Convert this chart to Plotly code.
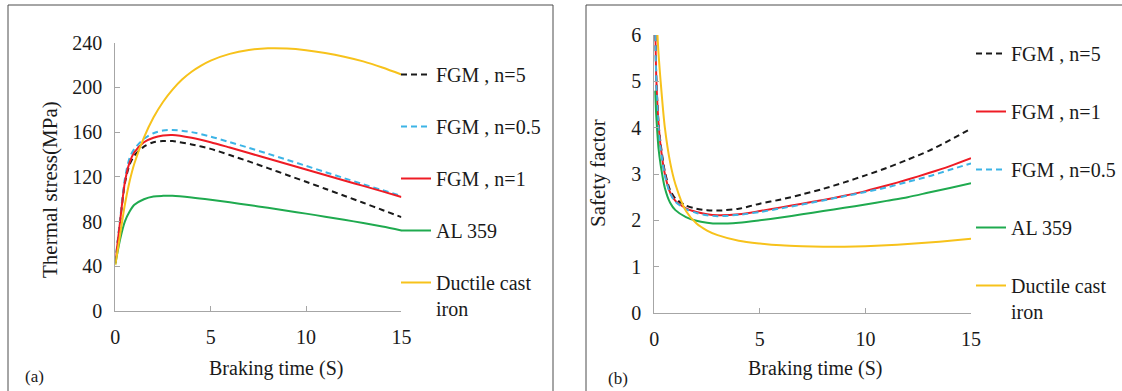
import plotly.graph_objects as go

W, H = 1122, 391
FONT = "Liberation Serif"
TXT = "#1a1a1a"
AX = "#a6a6a6"

# ---------------- (a) Thermal stress ----------------
t_a = [0, 0.25, 0.5, 0.75, 1, 1.5, 2, 2.5, 3, 4, 5, 6, 7, 8, 9, 10, 11, 12, 13, 14, 15]
stress_fgm5 = [43, 80, 114, 131, 139, 147, 151, 152, 152, 149, 145, 139.5, 133.8, 127.8, 121.7, 115.6, 109.4, 103.1, 96.8, 90.4, 84]
stress_fgm05 = [43, 82, 118, 137, 145, 154, 159, 161.5, 162, 160, 156, 151, 146, 140.7, 135.3, 129.8, 124.3, 118.8, 113.4, 108.1, 103]
stress_fgm1 = [43, 80, 115, 133, 142, 151, 155, 157, 157.5, 155, 151, 146.2, 141.3, 136.4, 131.5, 126.6, 121.7, 116.8, 111.9, 107, 102]
stress_al359 = [42, 64, 80, 89, 95, 100, 102.5, 103, 103, 101.5, 99.5, 97.2, 94.8, 92.3, 89.7, 87.1, 84.4, 81.6, 78.7, 75.5, 72]
t_a_dci = [0, 0.25, 0.5, 0.75, 1, 1.5, 2, 2.5, 3, 3.5, 4, 4.5, 5, 6, 7, 8, 9, 10, 11, 12, 13, 14, 15]
stress_dci = [41, 68, 95, 116, 132, 155, 173, 187, 198, 207, 214, 219.5, 224, 230, 233.5, 235, 234.8, 233.3, 230.8, 227.5, 223.3, 217.8, 211.5]

# ---------------- (b) Safety factor ----------------
t_b = [0.05, 0.1, 0.2, 0.3, 0.5, 0.75, 1, 1.5, 2, 2.5, 3, 4, 5, 6, 7, 8, 9, 10, 11, 12, 13, 14, 15]
sf_fgm5 = [6, 5.0, 4.1, 3.65, 3.05, 2.65, 2.47, 2.32, 2.25, 2.22, 2.21, 2.25, 2.36, 2.45, 2.56, 2.68, 2.82, 2.97, 3.13, 3.31, 3.5, 3.73, 3.98]
sf_fgm1 = [6, 5.0, 4.1, 3.6, 3.0, 2.6, 2.42, 2.26, 2.18, 2.13, 2.11, 2.13, 2.2, 2.28, 2.36, 2.44, 2.53, 2.63, 2.75, 2.88, 3.02, 3.17, 3.34]
sf_fgm05 = [6, 4.9, 4.0, 3.55, 2.97, 2.58, 2.4, 2.24, 2.16, 2.11, 2.09, 2.12, 2.18, 2.26, 2.34, 2.43, 2.52, 2.61, 2.71, 2.83, 2.95, 3.09, 3.23]
t_b_al = [0.03, 0.1, 0.2, 0.3, 0.5, 0.75, 1, 1.5, 2, 2.5, 3, 4, 5, 6, 7, 8, 9, 10, 11, 12, 13, 14, 15]
sf_al359 = [4.8, 4.2, 3.55, 3.2, 2.7, 2.38, 2.22, 2.07, 1.99, 1.95, 1.93, 1.95, 2.0, 2.06, 2.13, 2.2, 2.27, 2.34, 2.42, 2.5, 2.6, 2.7, 2.8]
t_b_dci = [0.15, 0.2, 0.3, 0.5, 0.75, 1, 1.5, 2, 2.5, 3, 4, 5, 6, 7, 8, 9, 10, 11, 12, 13, 14, 15]
sf_dci = [6, 5.6, 5.0, 4.0, 3.25, 2.78, 2.2, 1.93, 1.78, 1.68, 1.56, 1.5, 1.46, 1.44, 1.43, 1.43, 1.44, 1.46, 1.49, 1.52, 1.56, 1.6]

x_ticks = [0, 5, 10, 15]
names = {"fgm5": "FGM , n=5", "fgm05": "FGM , n=0.5", "fgm1": "FGM , n=1",
         "al": "AL 359", "dci": "Ductile cast<br>iron"}
colors = {"fgm5": "#1a1a1a", "fgm05": "#3cb4e6", "fgm1": "#ee1c25", "al": "#1faa4f", "dci": "#f7c21b"}
dashes = {"fgm5": "6px,4px", "fgm05": "6px,4px", "fgm1": "solid", "al": "solid", "dci": "solid"}

fig = go.Figure()

def add(x, y, key, xa, ya, leg):
    fig.add_trace(go.Scatter(
        x=x, y=y, mode="lines", name=names[key], legend=leg, legendgroup=leg + key,
        xaxis=xa, yaxis=ya,
        line=dict(color=colors[key], width=2, dash=dashes[key], shape="spline", smoothing=0.8),
        hoverinfo="skip"))

add(t_a, stress_fgm5, "fgm5", "x", "y", "legend")
add(t_a, stress_fgm05, "fgm05", "x", "y", "legend")
add(t_a, stress_fgm1, "fgm1", "x", "y", "legend")
add(t_a, stress_al359, "al", "x", "y", "legend")
add(t_a_dci, stress_dci, "dci", "x", "y", "legend")

add(t_b, sf_fgm5, "fgm5", "x2", "y2", "legend2")
add(t_b, sf_fgm1, "fgm1", "x2", "y2", "legend2")
add(t_b, sf_fgm05, "fgm05", "x2", "y2", "legend2")
add(t_b_al, sf_al359, "al", "x2", "y2", "legend2")
add(t_b_dci, sf_dci, "dci", "x2", "y2", "legend2")

def px(x):
    return x / W

def py(y):
    return 1 - y / H

axis_common = dict(showline=True, linecolor=AX, linewidth=1, ticks="inside", ticklen=5,
                   tickcolor=AX, showgrid=False, zeroline=False,
                   tickfont=dict(family=FONT, size=20, color=TXT),
                   ticklabelstandoff=8, fixedrange=True)

fig.update_layout(
    width=W, height=H,
    margin=dict(l=0, r=0, t=0, b=0, autoexpand=False),
    paper_bgcolor="white", plot_bgcolor="white",
    font=dict(family=FONT, size=20, color=TXT),
    xaxis=dict(domain=[px(115.3), px(401.4)], range=[0, 15], tickvals=x_ticks, anchor="y", **axis_common),
    yaxis=dict(domain=[py(311), py(42.7)], range=[0, 240], dtick=40, anchor="x", **axis_common),
    xaxis2=dict(domain=[px(654.3), px(971)], range=[0, 15], tickvals=x_ticks, anchor="y2", **axis_common),
    yaxis2=dict(domain=[py(313), py(35)], range=[0, 6], dtick=1, anchor="x2", **axis_common),
    legend=dict(x=px(396), y=py(55), xanchor="left", yanchor="top", traceorder="grouped",
                tracegroupgap=23, valign="top", bgcolor="rgba(0,0,0,0)",
                font=dict(family=FONT, size=20, color=TXT)),
    legend2=dict(x=px(971), y=py(34), xanchor="left", yanchor="top", traceorder="grouped",
                 tracegroupgap=29, valign="top", bgcolor="rgba(0,0,0,0)",
                 font=dict(family=FONT, size=20, color=TXT)),
    showlegend=True,
)

# panel frames
fig.add_shape(type="rect", xref="paper", yref="paper", x0=px(8), x1=px(553), y0=py(400), y1=py(5),
              line=dict(color="#4d4d4d", width=1), layer="below")
fig.add_shape(type="rect", xref="paper", yref="paper", x0=px(586), x1=px(1130), y0=py(400), y1=py(5),
              line=dict(color="#4d4d4d", width=1), layer="below")

ann = [
    dict(text="Thermal stress(MPa)", x=px(50), y=py(190), textangle=-90, size=21),
    dict(text="Braking time (S)", x=px(276), y=py(368), textangle=0, size=20),
    dict(text="Safety factor", x=px(598), y=py(173), textangle=-90, size=21),
    dict(text="Braking time (S)", x=px(815), y=py(368), textangle=0, size=20),
    dict(text="(a)", x=px(34), y=py(376), textangle=0, size=17),
    dict(text="(b)", x=px(618), y=py(378), textangle=0, size=17),
]
for a in ann:
    fig.add_annotation(text=a["text"], x=a["x"], y=a["y"], xref="paper", yref="paper",
                       xanchor="center", yanchor="middle", textangle=a["textangle"],
                       showarrow=False, font=dict(family=FONT, size=a["size"], color=TXT))

fig.write_html("out.html", config={"displayModeBar": False},
               post_script="document.body.style.margin='0';document.body.style.overflow='hidden';")
